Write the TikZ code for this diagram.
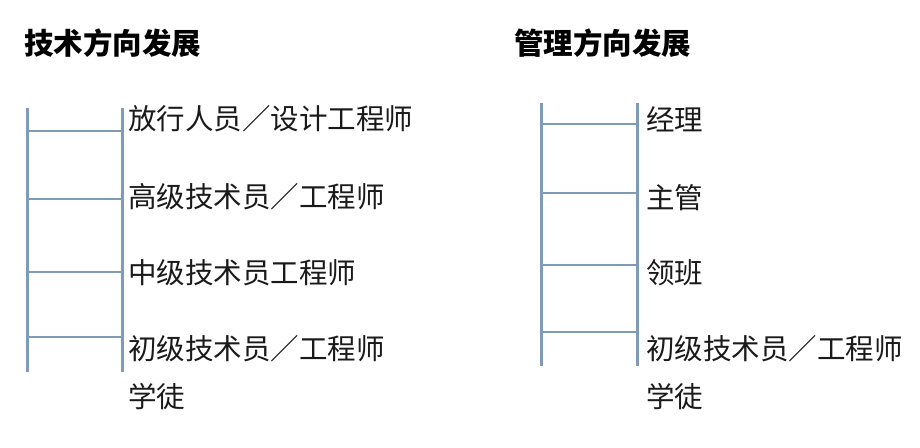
\documentclass[tikz,border=0pt]{standalone}
\usepackage{fontspec}
\newfontfamily\cjk{Noto Sans CJK SC}
\definecolor{rail}{HTML}{7E9CB9}
\definecolor{ink}{HTML}{1A1A1A}
\begin{document}
\begin{tikzpicture}[x=1pt,y=-1pt,
  lbl/.style={anchor=west,inner sep=0pt,text=ink,font=\cjk\fontsize{28.5}{30}\selectfont},
  ttl/.style={anchor=west,inner sep=0pt,text=black,font=\cjk\bfseries\fontsize{29.5}{31}\selectfont},
  railline/.style={draw=rail,line width=3pt},
  rungline/.style={draw=rail,line width=2.6pt}]
\useasboundingbox (0,0) rectangle (920,447);
% titles
\node[ttl] (t1) at (24,43) {技术方向发展};
\node[ttl] (t2) at (514,43) {管理方向发展};
% left ladder
\coordinate (la) at (27,108); \coordinate (lb) at (27,372);
\coordinate (ra) at (122,108); \coordinate (rb) at (122,372);
\draw[railline] (la) -- (lb);
\draw[railline] (ra) -- (rb);
\foreach \y in {131,199,272,337}{\draw[rungline] (27,\y) -- (122,\y);}
\node[lbl] (l1) at (128,119) {放行人员／设计工程师};
\node[lbl] (l2) at (128,197) {高级技术员／工程师};
\node[lbl] (l3) at (128,273) {中级技术员工程师};
\node[lbl] (l4) at (128,349) {初级技术员／工程师};
\node[lbl] (l5) at (128,397) {学徒};
% right ladder
\coordinate (Ra) at (541,103); \coordinate (Rb) at (541,366);
\coordinate (Rc) at (637,103); \coordinate (Rd) at (637,366);
\draw[railline] (Ra) -- (Rb);
\draw[railline] (Rc) -- (Rd);
\foreach \y in {124,193,265,332}{\draw[rungline] (541,\y) -- (637,\y);}
\node[lbl] (r1) at (646,119) {经理};
\node[lbl] (r2) at (646,198) {主管};
\node[lbl] (r3) at (646,273) {领班};
\node[lbl] (r4) at (646,349) {初级技术员／工程师};
\node[lbl] (r5) at (646,397) {学徒};
\end{tikzpicture}
\end{document}
